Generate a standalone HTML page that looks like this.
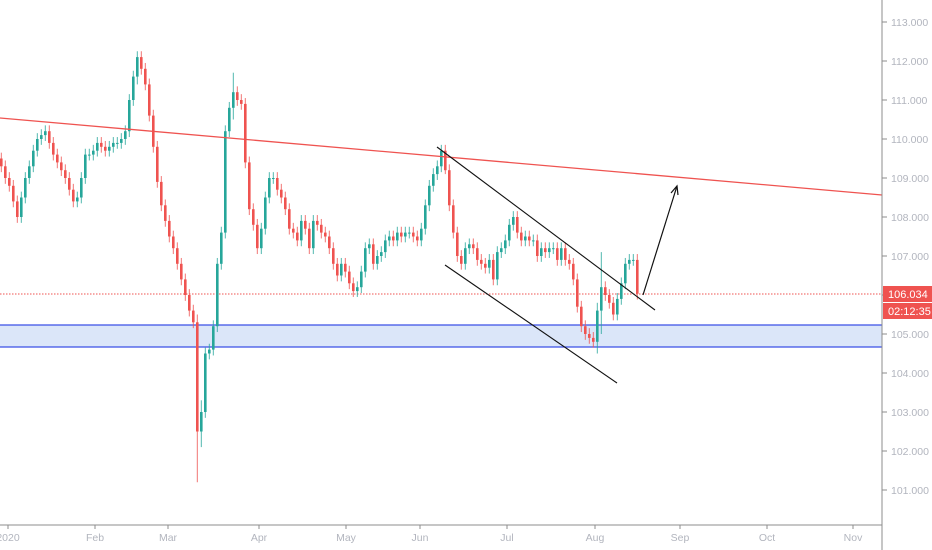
<!DOCTYPE html>
<html><head><meta charset="utf-8"><style>
body{margin:0;background:#fff;font-family:"Liberation Sans",sans-serif}
svg{display:block}
</style></head><body>
<svg id="chart" width="932" height="550" viewBox="0 0 932 550" xmlns="http://www.w3.org/2000/svg">
<rect x="0" y="0" width="932" height="550" fill="#fff"/>
<rect x="0" y="325" width="882" height="22" fill="#dbe6f9"/>
<line x1="0" y1="325" x2="882" y2="325" stroke="#3b4fe6" stroke-width="1.2"/>
<line x1="0" y1="347" x2="882" y2="347" stroke="#3b4fe6" stroke-width="1.2"/>
<line x1="0" y1="294" x2="882" y2="294" stroke="#ef5350" stroke-width="1" stroke-dasharray="1.5,1.5"/>
<g id="candles"></g>
<line x1="0" y1="118" x2="882" y2="195" stroke="#ef5350" stroke-width="1.3"/>
<line x1="437" y1="147" x2="655" y2="310" stroke="#111" stroke-width="1.1"/>
<line x1="445" y1="265" x2="617" y2="383" stroke="#111" stroke-width="1.1"/>
<g>
<line x1="643" y1="295" x2="677" y2="186" stroke="#111" stroke-width="1.2"/>
<polyline points="671,193 677,186 678,195" fill="none" stroke="#111" stroke-width="1.2"/>
</g>
<line x1="882" y1="0" x2="882" y2="550" stroke="#8c8c8c" stroke-width="1"/>
<line x1="0" y1="525" x2="882" y2="525" stroke="#8c8c8c" stroke-width="1"/>
<g id="yaxis"></g>
<g id="xaxis"></g>
<rect x="883" y="286" width="49" height="16" fill="#ef5350"/>
<text x="888" y="298" font-size="11" fill="#fff">106.034</text>
<rect x="883" y="303" width="49" height="16" fill="#ef5350"/>
<text x="888" y="315" font-size="11" fill="#fff">02:12:35</text>
</svg>
<script>
const closes=[109.3,109.0,108.8,108.4,108.0,108.5,109.0,109.3,109.7,110.0,110.1,110.2,109.9,109.6,109.4,109.2,109.0,108.7,108.4,108.5,109.0,109.6,109.6,109.7,109.9,109.8,109.7,109.8,109.9,109.9,110.0,110.2,111.0,111.6,112.1,111.8,111.4,110.6,109.8,108.9,108.3,107.9,107.5,107.2,106.8,106.4,106.0,105.6,105.3,102.5,103.0,104.5,104.6,105.2,106.8,107.6,110.2,110.8,111.2,111.0,110.9,109.4,108.2,107.8,107.2,107.7,108.5,109.0,109.0,108.7,108.5,108.2,107.7,107.6,107.4,107.9,107.7,107.2,107.9,107.8,107.6,107.5,107.2,106.8,106.5,106.8,106.6,106.3,106.1,106.2,106.6,107.2,107.3,106.8,107.0,107.1,107.4,107.5,107.4,107.6,107.5,107.6,107.6,107.5,107.4,107.7,108.3,108.8,109.1,109.3,109.7,109.2,108.3,107.6,107.0,106.8,107.2,107.3,107.2,106.9,106.8,106.7,106.9,106.4,107.1,107.2,107.4,107.8,108.0,107.6,107.4,107.5,107.4,107.4,107.0,107.2,107.1,107.2,107.2,106.9,107.2,106.9,106.8,106.4,105.7,105.2,105.0,104.9,104.8,105.6,106.2,106.0,105.8,105.5,105.9,106.3,106.8,106.9,106.9,106.034];
const firstOpen=109.5;
const wickIdx=[34,49,50,58,111,149,150];
const wickLow=[0.2,1.3,0.4,0.3,0.1,0.3,0.6];
const wickHigh=[0.15,0.2,0.3,0.5,0.15,0.2,0.9];
const yTicks=[113,112,111,110,109,108,107,106,105,104,103,102,101];
const xLabels=["2020","Feb","Mar","Apr","May","Jun","Jul","Aug","Sep","Oct","Nov"];
const xLabelSlots=[2,23.75,42,64.75,86.5,105,126.75,148.75,170,191.75,213.25];

const NS="http://www.w3.org/2000/svg";
function yOf(p){return 334+(105-p)*39;}
function xOf(i){return i*4;}
const cg=document.getElementById('candles');
for(let i=0;i<closes.length;i++){
  const o=i===0?firstOpen:closes[i-1], c=closes[i];
  let wl=0.15, wh=0.15;
  const k=wickIdx.indexOf(i);
  if(k>=0){wl=wickLow[k];wh=wickHigh[k];}
  const hi=Math.max(o,c)+wh, lo=Math.min(o,c)-wl;
  const col=c>=o?'#26a69a':'#ef5350';
  const x=xOf(i);
  const g=document.createElementNS(NS,'g');
  
  
  const w=document.createElementNS(NS,'line');
  w.setAttribute('x1',x+1.25);w.setAttribute('x2',x+1.25);
  w.setAttribute('y1',yOf(hi));w.setAttribute('y2',yOf(lo));
  w.setAttribute('stroke',col);w.setAttribute('stroke-width','0.8');
  const r=document.createElementNS(NS,'rect');
  const top=yOf(Math.max(o,c)), bot=yOf(Math.min(o,c));
  r.setAttribute('x',x);r.setAttribute('width','2.6');
  r.setAttribute('y',top);r.setAttribute('height',Math.max(1,bot-top));
  r.setAttribute('fill',col);
  g.appendChild(w);g.appendChild(r);cg.appendChild(g);
}
const ya=document.getElementById('yaxis');
yTicks.forEach(p=>{
  const y=yOf(p);
  const t=document.createElementNS(NS,'line');
  t.setAttribute('x1',882);t.setAttribute('x2',887);t.setAttribute('y1',y);t.setAttribute('y2',y);
  t.setAttribute('stroke','#8c8c8c');
  
  
  ya.appendChild(t);
  const tx=document.createElementNS(NS,'text');
  tx.setAttribute('x',891);tx.setAttribute('y',y+4);
  tx.setAttribute('font-size','10.5');tx.setAttribute('fill','#b2b5be');
  tx.textContent=p.toFixed(3);
  
  
  ya.appendChild(tx);
});
const xa=document.getElementById('xaxis');
xLabels.forEach((l,i)=>{
  const x=xOf(xLabelSlots[i]);
  const t=document.createElementNS(NS,'line');
  t.setAttribute('x1',x);t.setAttribute('x2',x);t.setAttribute('y1',525);t.setAttribute('y2',529);
  t.setAttribute('stroke','#8c8c8c');
  
  
  xa.appendChild(t);
  const tx=document.createElementNS(NS,'text');
  tx.setAttribute('x',x);tx.setAttribute('y',541);
  tx.setAttribute('font-size','10.5');tx.setAttribute('fill','#b2b5be');
  tx.setAttribute('text-anchor','middle');
  tx.textContent=l;
  
  
  xa.appendChild(tx);
});
</script>
</body></html>
